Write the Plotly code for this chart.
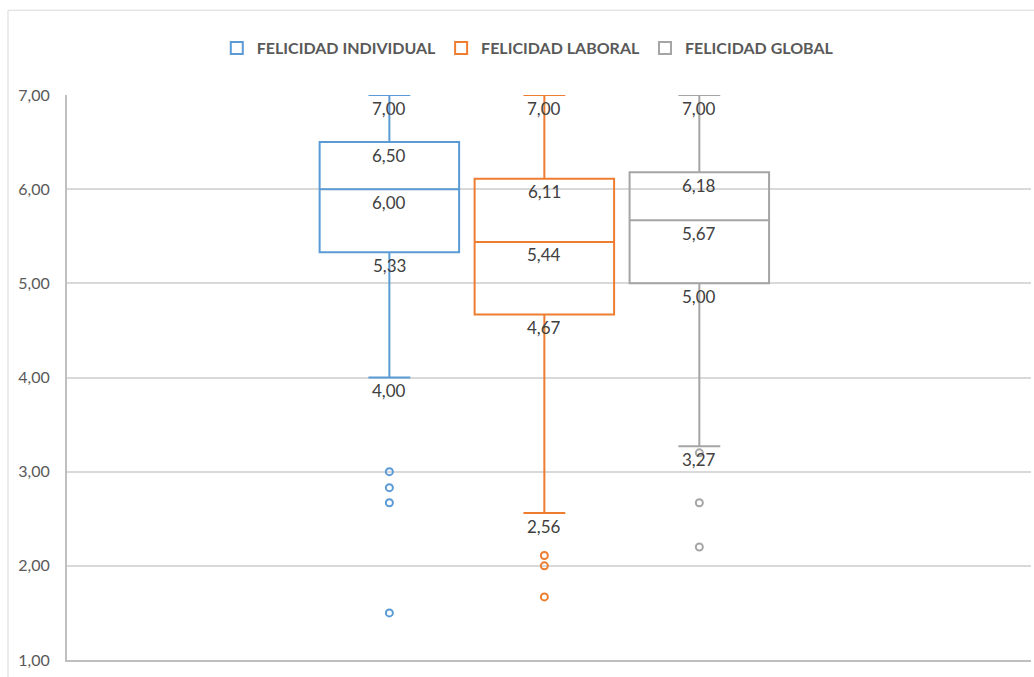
import plotly.graph_objects as go

# Summary statistics per series (Likert-style happiness scores)
series = ["FELICIDAD INDIVIDUAL", "FELICIDAD LABORAL", "FELICIDAD GLOBAL"]
colors = ["#5B9BD5", "#ED7D31", "#A5A5A5"]
positions = [-1, 0, 1]
lower_whisker = [4.00, 2.56, 3.27]
q1 = [5.33, 4.67, 5.00]
median = [6.00, 5.44, 5.67]
q3 = [6.50, 6.11, 6.18]
upper_whisker = [7.00, 7.00, 7.00]
outliers = [
    [3.00, 2.83, 2.67, 1.50],
    [2.11, 2.00, 1.67],
    [3.20, 2.67, 2.20],
]
y_ticks = [1, 2, 3, 4, 5, 6, 7]

FONT = "Lato, 'Open Sans', sans-serif"

fig = go.Figure()

for i, name in enumerate(series):
    fig.add_trace(go.Box(
        name=name,
        x=[positions[i]],
        q1=[q1[i]], median=[median[i]], q3=[q3[i]],
        lowerfence=[lower_whisker[i]], upperfence=[upper_whisker[i]],
        boxpoints=False,
        width=0.9,
        whiskerwidth=0.3,
        line=dict(color=colors[i], width=2),
        fillcolor="rgba(255,255,255,0)",
        hoverinfo="skip",
    ))
    fig.add_trace(go.Scatter(
        x=[positions[i]] * len(outliers[i]),
        y=outliers[i],
        mode="markers",
        marker=dict(symbol="circle-open", size=7, color=colors[i],
                    line=dict(width=2, color=colors[i])),
        showlegend=False,
        hoverinfo="skip",
    ))

# Value labels under each statistic line
annotations = []
for i in range(len(series)):
    for v in [upper_whisker[i], q3[i], median[i], q1[i], lower_whisker[i]]:
        annotations.append(dict(
            x=positions[i], y=v, xref="x", yref="y",
            text=f"{v:.2f}".replace(".", ","),
            showarrow=False, yanchor="middle", yshift=-13,
            font=dict(family=FONT, size=17, color="#404040"),
        ))

fig.update_layout(
    width=1034, height=677,
    margin=dict(l=67, r=3, t=95, b=17),
    paper_bgcolor="white", plot_bgcolor="white",
    separators=",.",
    showlegend=True,
    legend=dict(
        orientation="h", x=0.478, y=1.083, xanchor="center", yanchor="middle",
        font=dict(family=FONT, size=16, color="#595959", weight="bold"),
        itemwidth=30, traceorder="normal",
    ),
    annotations=annotations,
    shapes=[dict(
        type="rect", xref="paper", yref="paper",
        x0=-0.0612, x1=1.2, y0=-0.2, y1=1.150,
        line=dict(color="#D9D9D9", width=1), layer="below",
    )],
    xaxis=dict(
        range=[-3.08, 3.14], showticklabels=False, showgrid=False,
        zeroline=False, showline=True, linecolor="#BFBFBF", linewidth=2,
        fixedrange=True,
    ),
    yaxis=dict(
        range=[1, 7], tickvals=y_ticks, tickformat=".2f",
        showgrid=True, gridcolor="#D9D9D9", gridwidth=1.5,
        zeroline=False, showline=True, linecolor="#BFBFBF", linewidth=2,
        ticks="", ticklabelstandoff=12,
        tickfont=dict(family=FONT, size=16, color="#595959"),
    ),
)

fig.write_html("out.html")
